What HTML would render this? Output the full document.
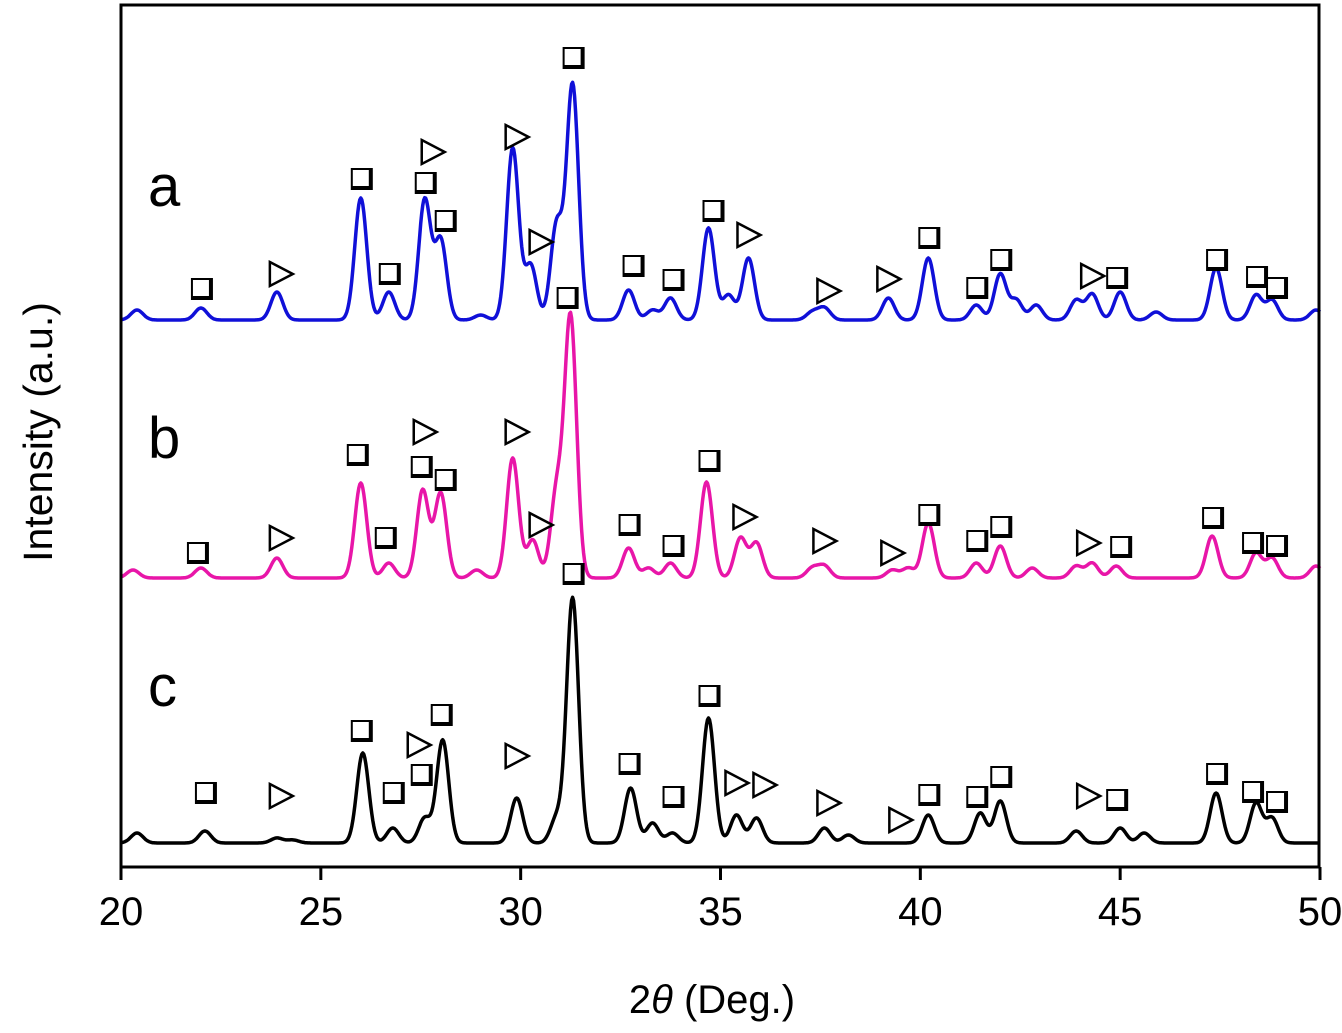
<!DOCTYPE html>
<html><head><meta charset="utf-8"><style>
html,body{margin:0;padding:0;background:#fff;}
svg{display:block;font-family:"Liberation Sans",Arial,sans-serif;}
</style></head><body>
<svg id="chart" width="1342" height="1033" viewBox="0 0 1342 1033" xmlns="http://www.w3.org/2000/svg">
<rect x="0" y="0" width="1342" height="1033" fill="#fff"/>
<g id="series"></g>
<g id="markers"></g>
<rect x="121" y="5" width="1198" height="862" fill="none" stroke="#000" stroke-width="3"/>
<g id="ticks"></g>
<text x="148" y="206" font-size="58">a</text>
<text x="148" y="458" font-size="58">b</text>
<text x="148" y="706" font-size="58">c</text>
<text transform="translate(52,432) rotate(-90)" text-anchor="middle" font-size="41">Intensity (a.u.)</text>
<text x="712" y="1013" text-anchor="middle" font-size="40">2<tspan font-style="italic">θ</tspan> (Deg.)</text>
</svg>
<script>
const xTicks = [20, 25, 30, 35, 40, 45, 50];
const offsets = {a: 546, b: 288, c: 23};
const colors = {a: '#1010d8', b: '#e816a8', c: '#000000'};
const peaksA = [[20.4,10],[22.0,12],[23.9,28],[26.0,122],[26.7,28],[27.6,120],[28.0,80],[29.0,5],[29.8,172],[30.25,55],[30.9,95],[31.3,235],[32.7,30],[33.3,10],[33.75,22],[34.7,92],[35.2,25],[35.7,62],[37.3,8],[37.6,12],[39.2,22],[40.2,62],[41.4,15],[42.0,46],[42.4,20],[42.9,15],[43.9,20],[44.3,26],[45.0,28],[45.9,8],[47.4,52],[48.4,25],[48.8,20],[49.9,10]];
const peaksB = [[20.3,8],[22.0,10],[23.9,20],[26.0,95],[26.7,15],[27.55,88],[28.0,85],[28.9,8],[29.8,120],[30.3,38],[30.9,85],[31.25,260],[32.7,30],[33.2,10],[33.75,15],[34.65,96],[35.5,40],[35.9,35],[37.3,10],[37.6,12],[39.3,8],[39.7,10],[40.2,55],[41.4,15],[42.0,32],[42.8,10],[43.9,12],[44.3,15],[44.9,12],[47.3,42],[48.4,25],[48.8,20],[49.9,12]];
const peaksC = [[20.4,10],[22.1,12],[23.9,5],[24.3,3],[26.05,90],[26.8,15],[27.6,25],[28.05,103],[29.9,45],[30.9,25],[31.3,245],[32.75,55],[33.3,20],[33.8,10],[34.7,125],[35.4,28],[35.9,25],[37.6,15],[38.2,8],[40.2,28],[41.5,30],[42.0,42],[43.9,12],[45.0,15],[45.6,10],[47.4,50],[48.4,40],[48.8,25]];
const squares = [[22.0,578],[26.0,688],[26.7,593],[27.6,684],[28.1,646],[31.3,809],[32.8,601],[33.8,587],[34.8,656],[40.2,629],[41.4,579],[42.0,607],[44.9,589],[47.4,607],[48.4,590],[48.9,579],
 [21.9,314],[25.9,412],[26.6,329],[27.5,400],[28.1,387],[31.15,569],[32.7,342],[33.8,321],[34.7,406],[40.2,352],[41.4,326],[42.0,340],[45.0,320],[47.3,349],[48.3,324],[48.9,321],
 [22.1,74],[26.0,136],[26.8,74],[27.5,92],[28.0,152],[31.3,293],[32.7,103],[33.8,70],[34.7,171],[40.2,72],[41.4,70],[42.0,90],[44.9,67],[47.4,93],[48.3,75],[48.9,65]];
const triangles = [[24.0,592],[27.8,714],[29.9,729],[30.5,624],[35.7,631],[37.7,575],[39.2,587],[44.3,590],
 [24.0,328],[27.6,434],[29.9,434],[30.5,341],[35.6,349],[37.6,325],[39.3,313],[44.2,323],
 [24.0,70],[27.45,121],[29.9,110],[35.4,83],[36.1,81],[37.7,63],[39.5,46],[44.2,70]];

const X0 = 121, X1 = 1320, Y0 = 866;
function sx(v){ return X0 + (v - 20) * (X1 - X0) / 30; }
function sy(v){ return Y0 - v; }
const NS = 'http://www.w3.org/2000/svg';
function mk(tag, attrs){ const e = document.createElementNS(NS, tag); for (const k in attrs) e.setAttribute(k, attrs[k]); return e; }

const sg = document.getElementById('series');
[['a', peaksA], ['b', peaksB], ['c', peaksC]].forEach(([key, pk]) => {
  let d = '';
  for (let t = 20; t <= 50.0001; t += 0.025) {
    let v = offsets[key];
    pk.forEach(([c, h]) => { const s = 0.15; v += h * Math.exp(-((t - c) ** 2) / (2 * s * s)); });
    d += (d ? 'L' : 'M') + sx(t).toFixed(1) + ',' + sy(v).toFixed(1);
  }
  const p = mk('path', {d: d, fill: 'none', stroke: colors[key], 'stroke-width': 3.5, 'stroke-linejoin': 'round'});
  
  
  sg.appendChild(p);
});

const mg = document.getElementById('markers');
squares.forEach(([x, y]) => {
  const cx = sx(x), cy = sy(y);
  const g = mk('g', {});
  
  
  g.appendChild(mk('rect', {x: cx - 10, y: cy - 10, width: 22, height: 22, fill: '#000'}));
  g.appendChild(mk('rect', {x: cx - 8, y: cy - 8, width: 16, height: 16, fill: '#fff'}));
  mg.appendChild(g);
});
triangles.forEach(([x, y]) => {
  const cx = sx(x), cy = sy(y);
  const p = mk('polygon', {points: `${cx-11},${cy-12} ${cx+12},${cy} ${cx-11},${cy+12}`, fill: '#fff', stroke: '#000', 'stroke-width': 2.5});
  
  
  mg.appendChild(p);
});

const tg = document.getElementById('ticks');
xTicks.forEach(v => {
  const l = mk('line', {x1: sx(v), x2: sx(v), y1: 867, y2: 880, stroke: '#000', 'stroke-width': 3});
  
  
  tg.appendChild(l);
  const t = mk('text', {x: sx(v), y: 925, 'text-anchor': 'middle', 'font-size': 40});
  
  
  t.textContent = v;
  tg.appendChild(t);
});
</script>
</body></html>
